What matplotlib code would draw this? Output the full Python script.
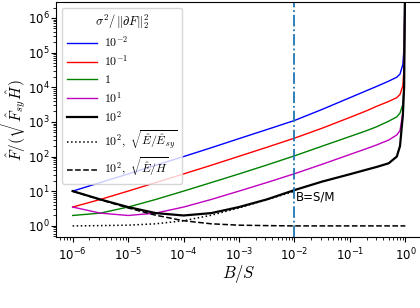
import numpy as np
import matplotlib
matplotlib.use("Agg")
import matplotlib.pyplot as plt

plt.rcParams['mathtext.fontset'] = 'cm'

# sample positions of B/S
x_vals = [1e-6, 3.16e-6, 1e-5, 3.16e-5, 1e-4, 3.16e-4, 1e-3, 3.16e-3, 1e-2,
          3.16e-2, 1e-1, 0.2, 0.3, 0.5, 0.7, 0.8, 0.9, 0.95, 0.985]

blue_vals = [10.1, 17.8, 31.6, 56.2, 100, 180, 330, 600, 1100,
             2300, 5000, 8000, 10500, 15000, 19500, 24000, 45000, 150000, 1e7]
red_vals = [3.5, 5.8, 10.1, 17.8, 31.6, 56.2, 102, 185, 340,
            660, 1350, 2100, 2800, 3900, 5000, 6200, 11000, 40000, 1e7]
green_vals = [2.0, 2.34, 3.5, 5.8, 10.1, 17.8, 31.6, 57, 105,
              200, 380, 560, 720, 1050, 1400, 1800, 3200, 12000, 1e7]
magenta_vals = [3.5, 2.34, 2.0, 2.34, 3.5, 5.8, 10.1, 17.8, 32,
                60, 115, 170, 215, 300, 420, 560, 1800, 15000, 1e7]
black_vals = [10.1, 5.8, 3.5, 2.34, 2.0, 2.34, 3.5, 5.8, 10.8,
              19, 31, 42, 50, 64, 100, 200, 1500, 10000, 1e7]
dotted_vals = [1.0, 1.02, 1.05, 1.15, 1.41, 2.03, 3.3, 5.7, 10.0]
dashed_x = [1e-6, 3.16e-6, 1e-5, 3.16e-5, 1e-4, 3.16e-4, 1e-3, 3.16e-3, 1e-2, 1.0]
dashed_vals = [10.0, 5.7, 3.3, 2.03, 1.41, 1.15, 1.05, 1.02, 1.0, 1.0]

series_labels = [r'$10^{-2}$', r'$10^{-1}$', r'$1$', r'$10^{1}$', r'$10^{2}$']
series_colors = ['blue', 'red', 'green', 'm', 'black']
dotted_label = r'$10^2,\ \sqrt{\hat{E}/\hat{E}_{sy}}$'
dashed_label = r'$10^2,\ \sqrt{\hat{E}/H}$'
legend_title = r'$\sigma^2/\,\|\partial F\|_2^2$'
vline_x = 1e-2
vline_text = 'B=S/M'

fig = plt.figure(figsize=(4.2, 3.08), dpi=100)
ax = fig.add_axes([56/420, 71/308, 366/420, 235/308])

all_series = [blue_vals, red_vals, green_vals, magenta_vals, black_vals]
for vals, lab, col in zip(all_series, series_labels, series_colors):
    lw = 1.6 if col == 'black' else 1.0
    ax.plot(x_vals[:len(vals)], vals, color=col, lw=lw, label=lab)

ax.plot(x_vals[:len(dotted_vals)], dotted_vals, color='black', ls=':', lw=1.1,
        label=dotted_label)
ax.plot(dashed_x, dashed_vals, color='black', ls='--', lw=1.1,
        label=dashed_label)

ax.axvline(vline_x, color='#1f77b4', ls='-.', lw=1.3)
ax.text(vline_x * 1.05, 7, vline_text, fontsize=8.5, va='center', ha='left',
        family='DejaVu Sans')

ax.set_xscale('log')
ax.set_yscale('log')
ax.set_xlim(10**-6.3, 10**0.3)
ax.set_ylim(10**-0.32, 10**6.46)
ax.set_xlabel(r'$B/S$', fontsize=12, labelpad=0)
ax.set_ylabel(r'$\hat{F}/(\sqrt{\hat{F}_{sy}\hat{H}})$', fontsize=11)
ax.yaxis.set_label_coords(-0.077, 0.5)
ax.tick_params(labelsize=8.5)
ax.tick_params(axis='y', which='major', pad=1)
ax.spines['right'].set_visible(False)

leg = ax.legend(loc='upper left', title=legend_title, fontsize=8.5,
                title_fontsize=9, handlelength=2.6, labelspacing=0.35,
                handletextpad=0.6, borderaxespad=0.5, framealpha=0.8)

fig.savefig('out.png', dpi=100)
